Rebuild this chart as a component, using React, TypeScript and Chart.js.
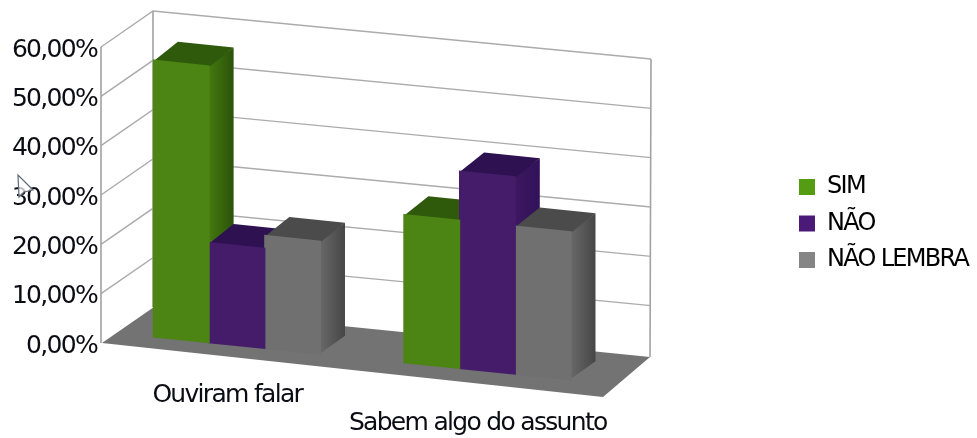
import React, { useEffect, useRef } from "react";
import { Chart, registerables } from "chart.js";

Chart.register(...registerables);

const categories = ["Ouviram falar", "Sabem algo do assunto"];
const sim = [56.1, 30];
const nao = [20.3, 40];
const naoLembra = [22.9, 30];
const seriesNames = ["SIM", "NÃO", "NÃO LEMBRA"];
const frontColors = ["#4d8514", "#441c6a", "#707070"];
const legendColors = ["#549c12", "#4b1a78", "#858585"];
const topColors = ["#2f5a0c", "#2d1150", "#4b4b4b"];
const sideNear = ["#44780f", "#3c1860", "#686868"];
const sideFar = ["#2b520a", "#31125a", "#464646"];

const FONT = "'DejaVu Sans'";
const AREA = { left: 102, right: 603, top: 47, bottom: 343 };
const SHEAR = 0.1026;
const SHIFT_X = 9.7;
const SHIFT_Y = -20.75;
const BAR_DEPTH = { x: 24.5, y: -18.5 };
const WALL_LEFT = { x: 153, y: -36 };
const WALL_RIGHT = { x: 651, y: 12 };

type P = [number, number];

function poly(ctx: CanvasRenderingContext2D, pts: P[], fill: any) {
  ctx.beginPath();
  pts.forEach((p, i) => (i ? ctx.lineTo(p[0], p[1]) : ctx.moveTo(p[0], p[1])));
  ctx.closePath();
  ctx.fillStyle = fill;
  ctx.fill();
}

const scene3d = {
  id: "scene3d",
  afterLayout(chart: any) {
    const l = chart.legend;
    l.left = 786.5;
    l.top = 162.5;
    l.right = 977;
    l.bottom = 300;
    l.width = 190.5;
    l.height = 137.5;
  },
  beforeDraw(chart: any) {
    (chart.ctx as any).letterSpacing = "-1.7px";
  },
  beforeDatasetsDraw(chart: any) {
    const ctx: CanvasRenderingContext2D = chart.ctx;
    const ys = chart.scales.y;
    const a = chart.chartArea;
    const y0 = ys.getPixelForValue(0);
    const floorRightBack: P = [650, 357];
    poly(ctx, [[a.left, y0], [154, y0 + WALL_LEFT.y], floorRightBack, [a.right, 397]], "#737373");

    ctx.save();
    ctx.strokeStyle = "#ababab";
    ctx.lineWidth = 1.4;
    ys.ticks.forEach((t: any) => {
      if (t.value === 0) return;
      const y = ys.getPixelForValue(t.value);
      ctx.beginPath();
      ctx.moveTo(a.left - 1, y);
      ctx.lineTo(WALL_LEFT.x, y + WALL_LEFT.y);
      ctx.lineTo(WALL_RIGHT.x, y + WALL_RIGHT.y);
      ctx.stroke();
    });
    ctx.strokeStyle = "#a2a2a2";
    ctx.lineWidth = 1.6;
    ctx.beginPath();
    ctx.moveTo(a.left - 1, a.top);
    ctx.lineTo(a.left - 1, y0);
    ctx.moveTo(WALL_LEFT.x, a.top + WALL_LEFT.y);
    ctx.lineTo(WALL_LEFT.x, y0 + WALL_LEFT.y);
    ctx.moveTo(WALL_RIGHT.x, a.top + WALL_RIGHT.y);
    ctx.lineTo(WALL_RIGHT.x - 1, floorRightBack[1]);
    ctx.stroke();
    ctx.restore();

    const map = (x: number, y: number): P => [x + SHIFT_X, y + SHEAR * x + SHIFT_Y];
    chart.data.datasets.forEach((_: any, di: number) => {
      chart.getDatasetMeta(di).data.forEach((bar: any) => {
        const hw = bar.width / 2;
        const fl = map(bar.x - hw, bar.y);
        const fr = map(bar.x + hw, bar.y);
        const br = map(bar.x + hw, bar.base);
        const d = BAR_DEPTH;
        const grad = ctx.createLinearGradient(fr[0], 0, fr[0] + d.x, 0);
        grad.addColorStop(0, sideNear[di]);
        grad.addColorStop(1, sideFar[di]);
        poly(ctx, [[fr[0] - 1.5, fr[1]], [br[0] - 1.5, br[1]], [br[0] + d.x, br[1] + d.y], [fr[0] + d.x, fr[1] + d.y]], grad);
        poly(ctx, [[fl[0], fl[1] + 1], [fr[0], fr[1] + 1], [fr[0] + d.x, fr[1] + d.y], [fl[0] + d.x, fl[1] + d.y]], topColors[di]);
      });
    });

    ctx.save();
    ctx.transform(1, SHEAR, 0, 1, SHIFT_X, SHIFT_Y);
  },
  afterDatasetsDraw(chart: any) {
    chart.ctx.restore();
  },
  afterDraw(chart: any) {
    // mouse pointer caught in the screenshot
    const ctx: CanvasRenderingContext2D = chart.ctx;
    ctx.save();
    ctx.beginPath();
    ctx.moveTo(18, 175);
    ctx.lineTo(19, 197);
    ctx.lineTo(24, 192);
    ctx.lineTo(33, 190);
    ctx.closePath();
    ctx.fillStyle = "rgba(255,255,255,0.75)";
    ctx.fill();
    ctx.strokeStyle = "#5f6b78";
    ctx.lineWidth = 1.2;
    ctx.stroke();
    ctx.restore();
  },
};

export default function App() {
  const ref = useRef<HTMLCanvasElement>(null);
  useEffect(() => {
    document.body.style.margin = "0";
    const names = seriesNames;
    const values = [sim, nao, naoLembra];
    const chart = new Chart(ref.current as HTMLCanvasElement, {
      type: "bar",
      data: {
        labels: categories,
        datasets: names.map((label, i) => ({
          label,
          data: values[i],
          backgroundColor: frontColors[i],
          borderWidth: 0,
          inflateAmount: 0.6,
          barPercentage: 1,
          categoryPercentage: 0.667,
          clip: false as any,
        })),
      },
      plugins: [scene3d],
      options: {
        responsive: false,
        animation: false,
        events: [],
        layout: {
          padding: {
            left: 0,
            top: AREA.top,
            right: 977 - AREA.right,
            bottom: 0,
          },
        },
        plugins: {
          tooltip: { enabled: false },
          title: { display: false },
          legend: {
            position: "chartArea" as any,
            align: "start",
            labels: {
              boxWidth: 16,
              boxHeight: 16,
              padding: 12.5,
              color: "#0c0c14",
              font: { family: FONT, size: 24 },
              generateLabels: () =>
                names.map((text, i) => ({
                  text,
                  fillStyle: legendColors[i],
                  strokeStyle: legendColors[i],
                  lineWidth: 0,
                  datasetIndex: i,
                })),
            },
          },
        },
        scales: {
          x: {
            grid: { display: false },
            border: { display: false },
            afterFit: (s: any) => {
              s.height = 438 - AREA.bottom;
            },
            ticks: {
              color: "#0c0c14",
              font: { family: FONT, size: 25, lineHeight: 1.12 },
              padding: 30,
              minRotation: 0,
              maxRotation: 0,
              autoSkip: false,
              callback: (_v: any, i: number) => (i === 1 ? ["", categories[i]] : categories[i]),
            },
          },
          y: {
            min: 0,
            max: 60,
            grid: { display: false },
            border: { display: false },
            afterFit: (s: any) => {
              s.width = AREA.left;
            },
            ticks: {
              stepSize: 10,
              color: "#0c0c14",
              padding: -3,
              labelOffset: 3,
              font: { family: FONT, size: 25 },
              callback: (v: any) => `${Number(v).toFixed(2).replace(".", ",")}%`,
            },
          },
        },
      },
    });
    return () => chart.destroy();
  }, []);
  return (
    <canvas
      ref={ref}
      width={977}
      height={438}
      style={{ display: "block", width: 977, height: 438, filter: "blur(0.5px)" }}
    />
  );
}
